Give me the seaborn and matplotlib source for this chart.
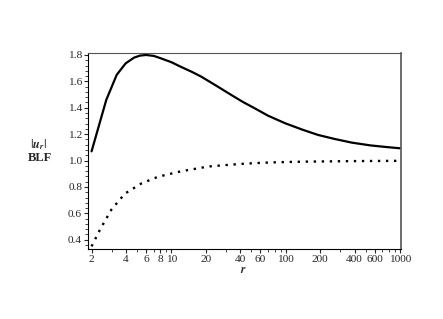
import numpy as np
import pandas as pd
import matplotlib
matplotlib.use("Agg")
import matplotlib.pyplot as plt
import matplotlib.ticker as mticker
import seaborn as sns

# values
r_solid = [2, 2.69, 3.32, 3.98, 4.71, 5.3, 5.98, 7.0, 8.05, 10.0, 12.1, 15.0,
           18.2, 25, 33.4, 42, 53, 70, 98.6, 140, 192, 270, 378, 550, 750, 1000]
u_solid = [1.07, 1.46, 1.65, 1.737, 1.78, 1.795, 1.80, 1.793, 1.775, 1.745,
           1.71, 1.673, 1.636, 1.564, 1.497, 1.445, 1.398, 1.34, 1.283, 1.234,
           1.194, 1.163, 1.136, 1.115, 1.103, 1.093]

r_dot = [2, 2.36, 2.6, 2.99, 3.4, 3.92, 4.5, 5.49, 6.5, 7.67, 9.5, 12.3, 16,
         21, 30, 41, 55, 70, 100, 150, 400, 1000]
u_dot = [0.35, 0.474, 0.538, 0.63, 0.687, 0.75, 0.782, 0.828, 0.853, 0.878,
         0.897, 0.92, 0.937, 0.955, 0.966, 0.975, 0.981, 0.985, 0.989, 0.992,
         0.996, 0.998]

x_ticks = [2, 4, 6, 8, 10, 20, 40, 60, 100, 200, 400, 600, 1000]
y_ticks = [0.4, 0.6, 0.8, 1.0, 1.2, 1.4, 1.6, 1.8]

sns.set_style("white")
plt.rcParams["font.family"] = ["Liberation Serif", "DejaVu Serif"]
plt.rcParams["mathtext.fontset"] = "stix"

fig = plt.figure(figsize=(4.43, 3.19), dpi=100)
ax = fig.add_axes([0.1986, 0.2194, 0.7066, 0.6145])

df_s = pd.DataFrame({"r": r_solid, "u": u_solid})
df_d = pd.DataFrame({"r": r_dot, "u": u_dot})

sns.lineplot(data=df_s, x="r", y="u", ax=ax, color="black", lw=1.6,
             sort=False, estimator=None)
sns.lineplot(data=df_d, x="r", y="u", ax=ax, color="black", lw=1.7,
             sort=False, estimator=None, dashes=False, linestyle=(0, (1, 2.4)))

ax.set_xscale("log")
ax.set_xlim(1.86, 1020)
ax.set_ylim(0.33, 1.815)

ax.xaxis.set_major_locator(mticker.FixedLocator(x_ticks))
ax.xaxis.set_major_formatter(mticker.FixedFormatter([str(t) for t in x_ticks]))
ax.xaxis.set_minor_locator(mticker.LogLocator(base=10, subs=np.arange(1, 10) * 1.0, numticks=20))
ax.xaxis.set_minor_formatter(mticker.NullFormatter())
ax.set_yticks(y_ticks)
ax.set_yticklabels([f"{v:.1f}" for v in y_ticks])
ax.yaxis.set_minor_locator(mticker.MultipleLocator(0.04))

ax.tick_params(which="major", direction="out", length=3, width=0.8,
               labelsize=8.2, pad=1.2, bottom=True, left=True)
ax.tick_params(which="minor", direction="out", length=2, width=0.6,
               bottom=True, left=True)

for s in ax.spines.values():
    s.set_color("#555555")
    s.set_linewidth(0.8)
ax.spines["left"].set_color("black")
ax.spines["bottom"].set_color("black")
ax.spines["right"].set_linewidth(1.2)

ax.set_xlabel("")
ax.set_ylabel("")

fig.text(39 / 443, 1 - 144.5 / 319, r"$|\mathbfit{u}_{\mathbfit{r}}|$", ha="center",
         va="center", fontsize=9)
fig.text(40 / 443, 1 - 158 / 319, "BLF", ha="center", va="center",
         fontsize=9, fontweight="bold")
fig.text(243 / 443, 1 - 270 / 319, r"$\mathbfit{r}$", ha="center", va="center",
         fontsize=8.5)

fig.savefig("out.png", dpi=100)
